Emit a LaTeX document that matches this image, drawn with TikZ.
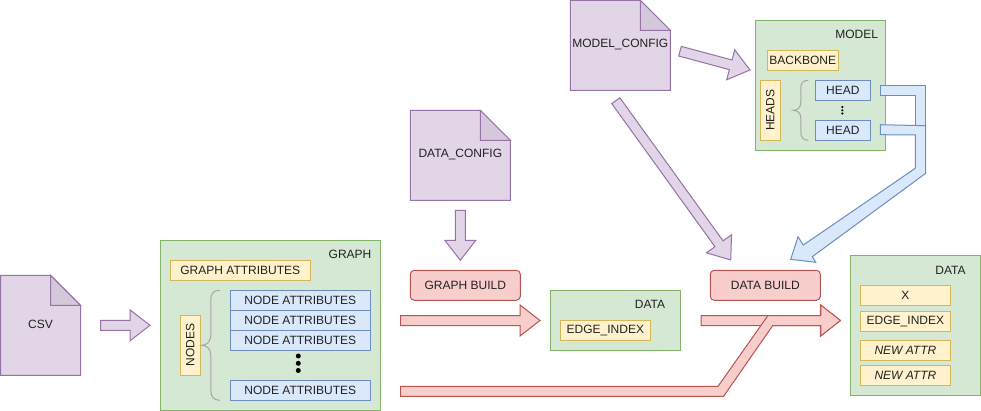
\documentclass[tikz,border=0pt]{standalone}
\usepackage{fontspec}
\setmainfont{Liberation Sans}
\usetikzlibrary{calc}
\definecolor{grfill}{HTML}{D5E8D4}\definecolor{grline}{HTML}{82B366}
\definecolor{yefill}{HTML}{FFF2CC}\definecolor{yeline}{HTML}{D6B656}
\definecolor{blfill}{HTML}{DAE8FC}\definecolor{blline}{HTML}{6C8EBF}
\definecolor{rdfill}{HTML}{F8CECC}\definecolor{rdline}{HTML}{B85450}
\definecolor{pufill}{HTML}{E1D5E7}\definecolor{puline}{HTML}{9673A6}
\definecolor{pufold}{HTML}{D5C8DB}\definecolor{txtcol}{HTML}{222222}
\newcommand{\blockarrow}[4][]{%
\coordinate (hb) at ($(#3)!#4!(#2)$);
\draw[#1] ($(#2)!5pt!90:(#3)$) -- ($(hb)!5pt!90:(#3)$) -- ($(hb)!15.5pt!90:(#3)$) -- (#3)
  -- ($(hb)!15.5pt!-90:(#3)$) -- ($(hb)!5pt!-90:(#3)$) -- ($(#2)!5pt!-90:(#3)$) -- cycle;}
\begin{document}
\begin{tikzpicture}[x=1pt,y=-1pt,line width=1pt,font=\fontsize{12}{14}\selectfont,text=txtcol,
  panel/.style={draw=grline,fill=grfill,inner sep=0pt},
  attr/.style={draw=yeline,fill=yefill,inner sep=0pt},
  item/.style={draw=blline,fill=blfill,inner sep=0pt},
  buildbox/.style={draw=rdline,fill=rdfill,rounded corners=4pt,inner sep=0pt,minimum width=110pt,minimum height=30pt},
  purplearrow/.style={draw=puline,fill=pufill},
  redarrow/.style={draw=rdline,fill=rdfill},
  bluearrow/.style={draw=blline,fill=blfill},
  bracket/.style={draw=black!35}]
\useasboundingbox (0,0) rectangle (981,411);
\foreach \nm/\x/\y/\wdt/\hgt/\txt in {csv/0.5/275.3/80/100/CSV,dataconfig/410.3/110.3/100/90/DATA\_CONFIG,modelconfig/570.3/0.3/100/90/MODEL\_CONFIG} {
\begin{scope}[shift={(\x,\y)}]
\draw[draw=puline,fill=pufill] (0,0) -- ({\wdt-30},0) -- (\wdt,30) -- (\wdt,\hgt) -- (0,\hgt) -- cycle;
\draw[draw=puline,fill=pufold] ({\wdt-30},0) -- (\wdt,30) -- ({\wdt-30},30) -- cycle;
\node[inner sep=0pt] (\nm) at ({\wdt/2},{\hgt/2-0.5}) {\txt};
\end{scope}
}
\node[panel,minimum width=220pt,minimum height=170pt] (graph) at (270.3,325.3) {};
\node[inner sep=0pt] (graphlabel) at (350,254.3) {GRAPH};
\node[attr,minimum width=140pt,minimum height=20pt] (graphattr) at (240.3,270.3) {GRAPH ATTRIBUTES};
\node[attr,rotate=90,minimum width=60pt,minimum height=20pt] (nodes) at (190.3,345.3) {NODES};
\foreach \nm/\y in {na/300.3,nb/320.3,nc/340.3,nd/390.3}
  \node[item,minimum width=140pt,minimum height=20pt] (\nm) at (300.3,\y) {NODE ATTRIBUTES};
\foreach \y in {356,363.3,370.5} \fill (298.3,\y) circle (2.5pt);
\draw[bracket] (220,290.3) .. controls (214,290.3) and (210.8,293) .. (210.8,300) -- (210.8,335)
  .. controls (210.8,341) and (207,345.3) .. (201.7,345.3) .. controls (207,345.3) and (210.8,349) .. (210.8,355)
  -- (210.8,390) .. controls (210.8,397) and (214,400.3) .. (220,400.3);
\node[buildbox] (graphbuild) at (465.3,285.3) {GRAPH BUILD};
\node[panel,minimum width=130pt,minimum height=60pt] (data) at (615.6,320.5) {};
\node[inner sep=0pt] (datalabel) at (650,304) {DATA};
\node[attr,minimum width=90pt,minimum height=20pt] (edgeindex) at (605.4,330.3) {EDGE\_INDEX};
\node[panel,minimum width=130pt,minimum height=130pt] (model) at (820.3,85.5) {};
\node[inner sep=0pt] (modellabel) at (856.7,34.7) {MODEL};
\node[attr,minimum width=71pt,minimum height=20pt] (backbone) at (802.8,60.3) {BACKBONE};
\node[attr,rotate=90,minimum width=60pt,minimum height=20pt] (heads) at (770.3,110.3) {HEADS};
\node[item,minimum width=55pt,minimum height=20pt] (heada) at (842.8,90.3) {HEAD};
\node[item,minimum width=55pt,minimum height=20pt] (headb) at (842.8,130.3) {HEAD};
\foreach \y in {107,110.3,113.5} \fill (842.3,\y) circle (1.2pt);
\draw[bracket] (808.3,80.3) .. controls (803,80.3) and (800.8,83) .. (800.8,88) -- (800.8,102)
  .. controls (800.8,107) and (798,110.3) .. (793.3,110.3) .. controls (798,110.3) and (800.8,113.6) .. (800.8,118)
  -- (800.8,132) .. controls (800.8,137) and (803,140.3) .. (808.3,140.3);
\node[buildbox] (databuild) at (765.3,285.3) {DATA BUILD};
\node[panel,minimum width=130pt,minimum height=140pt] (dataout) at (915.4,325.3) {};
\node[inner sep=0pt] (dataoutlabel) at (950.5,270) {DATA};
\node[attr,minimum width=90pt,minimum height=20pt] (attrx) at (905.4,295.3) {X};
\node[attr,minimum width=90pt,minimum height=20pt] (attrindex) at (905.4,321.3) {EDGE\_INDEX};
\node[attr,minimum width=90pt,minimum height=20pt] (attrnewa) at (905.4,350.3) {\itshape NEW ATTR};
\node[attr,minimum width=90pt,minimum height=20pt] (attrnewb) at (905.4,375.3) {\itshape NEW ATTR};
\coordinate (csvout) at (100.7,325.3);
\coordinate (graphin) at (150,325.3);
\coordinate (dcout) at (460.3,210.3);
\coordinate (dcin) at (460.3,260.3);
\coordinate (gbout) at (400.5,320.5);
\coordinate (gbin) at (540,320.5);
\coordinate (dbout) at (701,320.5);
\coordinate (dbin) at (840.4,320.5);
\coordinate (mcout) at (680,51.2);
\coordinate (modelin) at (750,70);
\coordinate (mcdown) at (615.8,100.7);
\coordinate (mcdata) at (730.7,260);
\blockarrow[purplearrow]{csvout}{graphin}{20pt}
\blockarrow[purplearrow]{dcout}{dcin}{20pt}
\blockarrow[purplearrow]{mcout}{modelin}{20pt}
\blockarrow[purplearrow]{mcdown}{mcdata}{20pt}
\blockarrow[redarrow]{gbout}{gbin}{20pt}
\blockarrow[redarrow]{dbout}{dbin}{20pt}
\draw[redarrow] (400.5,386.3) -- (718,386.3) -- (768,315.5) -- (820.8,315.5) -- (820.8,305) -- (dbin) -- (820.8,336) -- (820.8,325.7) -- (772.6,325.7) -- (723.6,396.3) -- (400.5,396.3) -- cycle;
\draw[bluearrow] (880.3,85.7) -- (925.7,85.7) -- (925.7,125.7) -- (915.3,125.7) -- (915.3,95.3) -- (880.3,95.3) -- cycle;
\draw[bluearrow] (880.3,124.7) -- (925.7,125.7) -- (925.7,173.3) -- (812.3,256.7) -- (815.7,262.3) -- (790.7,259.3) -- (798,236.7) -- (803.3,245) -- (915.3,168.3) -- (915.3,135) -- (880.3,134.7) -- cycle;
\end{tikzpicture}
\end{document}
